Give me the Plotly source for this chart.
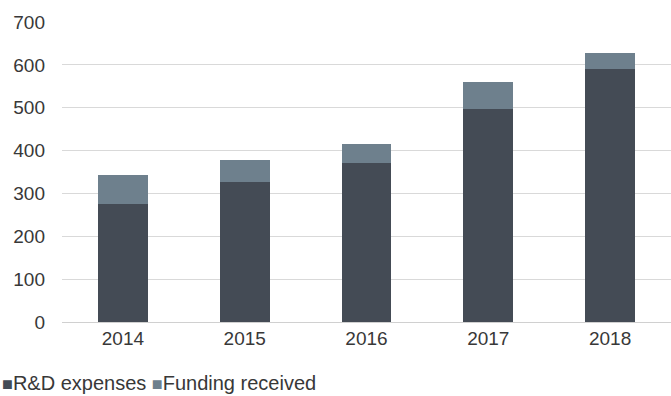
import plotly.graph_objects as go

years = ["2014", "2015", "2016", "2017", "2018"]
rd_expenses = [275, 327, 370, 497, 590]
funding_received = [68, 51, 45, 62, 37]
y_ticks = [0, 100, 200, 300, 400, 500, 600, 700]

DARK = "#444b55"
LIGHT = "#6e808d"
TEXT = "#383838"
FONT = "Liberation Sans, Arial, sans-serif"

fig = go.Figure()
fig.add_trace(go.Bar(x=years, y=rd_expenses, name="R&D expenses",
                     marker=dict(color=DARK, line=dict(width=0)),
                     width=0.41, showlegend=False))
fig.add_trace(go.Bar(x=years, y=funding_received, name="Funding received",
                     marker=dict(color=LIGHT, line=dict(width=0)),
                     width=0.41, showlegend=False))

# compact legend line below the chart
legend_text = (f"<span style='color:{DARK};font-size:18px'>■</span>R&D expenses "
               f"<span style='color:{LIGHT};font-size:18px'>■</span>Funding received")
fig.add_annotation(text=legend_text, xref="paper", yref="paper",
                   x=-62 / 609, y=-61 / 300, xanchor="left", yanchor="middle",
                   showarrow=False, align="left",
                   font=dict(family=FONT, size=20, color=TEXT))

fig.update_layout(
    barmode="stack",
    width=671, height=396,
    margin=dict(l=62, r=0, t=22, b=74),
    paper_bgcolor="white", plot_bgcolor="white",
    font=dict(family=FONT, size=19, color=TEXT),
    xaxis=dict(range=[-0.5, 4.5], showgrid=False, showline=False,
               ticks="", ticklabelstandoff=3, fixedrange=True),
    yaxis=dict(range=[0, 700], tickvals=y_ticks, showgrid=True,
               gridcolor="#d9d9d9", gridwidth=1, zeroline=True,
               zerolinecolor="#d0d0d0", zerolinewidth=1, showline=False,
               ticks="", ticklabelstandoff=16, fixedrange=True),
    bargap=0.59,
)

fig.write_html("out.html")
